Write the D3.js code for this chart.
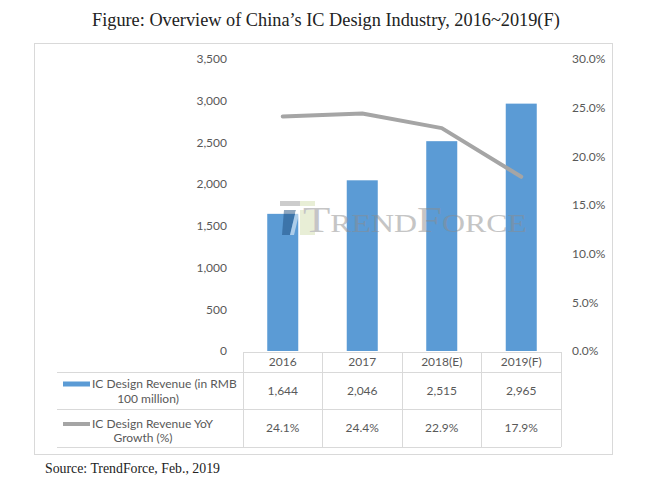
<!DOCTYPE html>
<html>
<head>
<meta charset="utf-8">
<script src="https://cdn.jsdelivr.net/npm/d3@7"></script>
<style>
  html, body { margin: 0; padding: 0; background: #ffffff; }
  svg { display: block; }
</style>
</head>
<body>
<svg id="chart" width="647" height="483"></svg>
<script>
// ---- data ----
const categories = ["2016", "2017", "2018(E)", "2019(F)"];
const revenue = [1644, 2046, 2515, 2965];
const growth = [24.1, 24.4, 22.9, 17.9];
const revenueLabels = ["1,644", "2,046", "2,515", "2,965"];
const growthLabels = ["24.1%", "24.4%", "22.9%", "17.9%"];
const leftTicks = [0, 500, 1000, 1500, 2000, 2500, 3000, 3500];
const rightTicks = [0, 5, 10, 15, 20, 25, 30];
const titleText = "Figure: Overview of China\u2019s IC Design Industry, 2016~2019(F)";
const sourceText = "Source: TrendForce, Feb., 2019";
const seriesNames = [["IC Design Revenue (in RMB", "100 million)"], ["IC Design Revenue YoY", "Growth (%)"]];

// ---- layout ----
const svg = d3.select("#chart");
const textColor = "#595959";
const gridColor = "#d9d9d9";
const barColor = "#5b9bd5";
const lineColor = "#a5a5a5";
const sans = "Lato, 'Open Sans', sans-serif";
const serif = "'Liberation Serif', 'DejaVu Serif', serif";

const plotTop = 59, plotBottom = 351;
const xLeft = 243, xRight = 561;
const tableLeft = 57;
const rowY = [352, 372, 409, 447];

const x = d3.scaleBand().domain(categories).range([xLeft, xRight]).paddingInner(0.61).paddingOuter(0.305);
const y = d3.scaleLinear().domain([0, 3500]).range([plotBottom, plotTop]);
const y2 = d3.scaleLinear().domain([0, 30]).range([plotBottom, plotTop]);

function fitWidth(sel, w) {
  const node = sel.node();
  const fs = parseFloat(sel.attr("font-size"));
  const len = node.getComputedTextLength();
  sel.attr("font-size", (fs * w / len).toFixed(2));
}

// title
const title = svg.append("text")
  .attr("x", 92).attr("y", 26)
  .attr("font-family", serif).attr("font-size", 18)
  .attr("fill", "#222").text(titleText);
fitWidth(title, 468);

// outer chart border
svg.append("rect")
  .attr("x", 34.5).attr("y", 43.5).attr("width", 578).attr("height", 411)
  .attr("fill", "none").attr("stroke", gridColor).attr("stroke-width", 1);

// bars
svg.append("g").selectAll("rect").data(revenue).join("rect")
  .attr("x", (d, i) => x(categories[i]))
  .attr("y", d => y(d))
  .attr("width", x.bandwidth())
  .attr("height", d => y(0) - y(d))
  .attr("fill", barColor);

// watermark (TrendForce logo), drawn over the bars
const wm = svg.append("g").attr("opacity", 0.5);
wm.append("rect").attr("x", 280).attr("y", 201).attr("width", 20).attr("height", 5).attr("fill", "#9a9a9a");
wm.append("rect").attr("x", 300).attr("y", 201).attr("width", 15).attr("height", 5).attr("fill", "#d3dfae");
wm.append("rect").attr("x", 300).attr("y", 210).attr("width", 15).attr("height", 25).attr("fill", "#d3dfae");
wm.append("polygon").attr("points", "284,210 296,210 290,235 282,235").attr("fill", "#1f4f80");
wm.append("polygon").attr("points", "296,210 300,210 294,235 290,235").attr("fill", "#ffffff");
wm.append("text")
  .attr("x", 303).attr("y", 232)
  .attr("font-family", "'Liberation Serif', serif").attr("font-size", 35)
  .attr("fill", "#8c8c8c").attr("textLength", 224).attr("lengthAdjust", "spacingAndGlyphs")
  .style("font-variant", "small-caps").text("TrendForce");

// line
const line = d3.line()
  .x((d, i) => x(categories[i]) + x.bandwidth() / 2)
  .y(d => y2(d));
svg.append("path").datum(growth)
  .attr("d", line)
  .attr("fill", "none").attr("stroke", lineColor).attr("stroke-width", 4)
  .attr("stroke-linecap", "round").attr("stroke-linejoin", "round");

// axes
const leftAxis = svg.append("g").attr("transform", "translate(237,0)")
  .call(d3.axisLeft(y).tickValues(leftTicks).tickFormat(d3.format(",")).tickSize(0).tickPadding(10));
const rightAxis = svg.append("g").attr("transform", "translate(562,0)")
  .call(d3.axisRight(y2).tickValues(rightTicks).tickFormat(d => d3.format(".1f")(d) + "%").tickSize(0).tickPadding(10));
[leftAxis, rightAxis].forEach(a => {
  a.select(".domain").remove();
  a.selectAll("text").attr("font-family", sans).attr("font-size", 12).attr("fill", textColor);
});

// data table
const tg = svg.append("g").attr("stroke", gridColor).attr("stroke-width", 1).attr("shape-rendering", "crispEdges");
tg.append("line").attr("x1", xLeft).attr("x2", xRight).attr("y1", rowY[0]).attr("y2", rowY[0]);
[rowY[1], rowY[2], rowY[3]].forEach(yy => {
  tg.append("line").attr("x1", tableLeft).attr("x2", xRight).attr("y1", yy).attr("y2", yy);
});
const colEdges = [xLeft].concat(categories.map(c => x(c) + x.bandwidth() / 2 + x.step() / 2));
colEdges.forEach(xx => {
  tg.append("line").attr("x1", xx).attr("x2", xx).attr("y1", rowY[0]).attr("y2", rowY[3]);
});

const tt = svg.append("g").attr("font-family", sans).attr("font-size", 12).attr("fill", textColor).attr("text-anchor", "middle");
categories.forEach((c, i) => {
  const cx = x(c) + x.bandwidth() / 2;
  tt.append("text").attr("x", cx).attr("y", (rowY[0] + rowY[1]) / 2).attr("dy", "0.35em").text(c);
  tt.append("text").attr("x", cx).attr("y", (rowY[1] + rowY[2]) / 2).attr("dy", "0.35em").text(revenueLabels[i]);
  tt.append("text").attr("x", cx).attr("y", (rowY[2] + rowY[3]) / 2).attr("dy", "0.35em").text(growthLabels[i]);
});

// row labels with legend keys
svg.append("rect").attr("x", 63).attr("y", 381.5).attr("width", 27).attr("height", 5).attr("fill", barColor);
svg.append("line").attr("x1", 63).attr("x2", 90).attr("y1", 424).attr("y2", 424)
  .attr("stroke", lineColor).attr("stroke-width", 4);
tt.append("text").attr("x", 92).attr("y", 388).attr("text-anchor", "start").text(seriesNames[0][0]);
tt.append("text").attr("x", 148).attr("y", 403).text(seriesNames[0][1]);
tt.append("text").attr("x", 92).attr("y", 428).attr("text-anchor", "start").text(seriesNames[1][0]);
tt.append("text").attr("x", 143).attr("y", 442).text(seriesNames[1][1]);

// source
const src = svg.append("text")
  .attr("x", 45).attr("y", 473)
  .attr("font-family", serif).attr("font-size", 12)
  .attr("fill", "#222").text(sourceText);
fitWidth(src, 175);
</script>
</body>
</html>
